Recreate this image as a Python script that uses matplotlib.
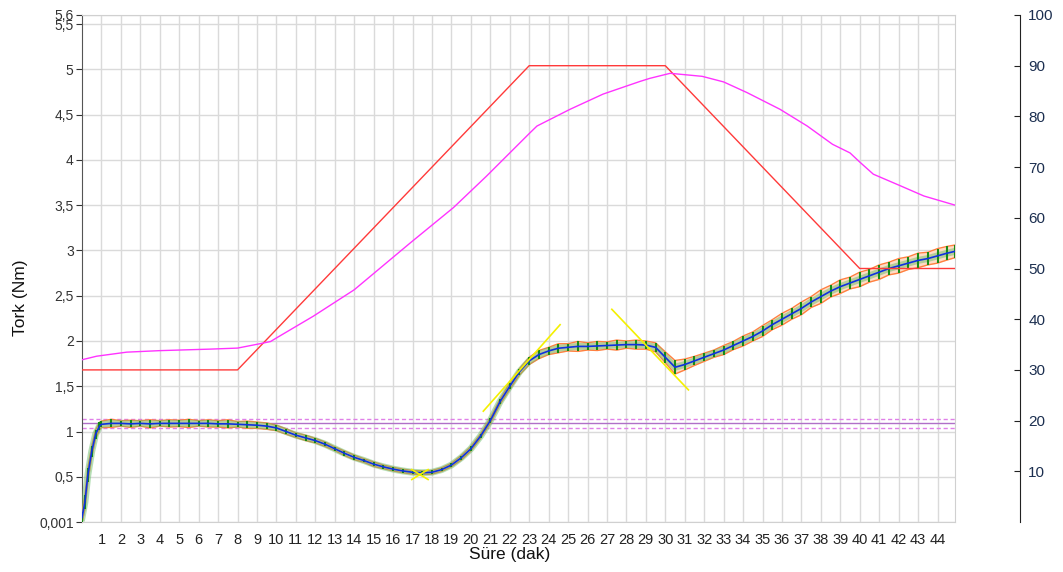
import matplotlib
matplotlib.use("Agg")
import matplotlib.pyplot as plt
import numpy as np

plt.rcParams['font.family'] = ['Liberation Sans', 'DejaVu Sans']

# ---------------- data ----------------
# Set temperature profile (right axis, deg C)
set_time = [0, 8, 23, 30, 40, 44.9]
set_temp = [30, 30, 90, 90, 50, 50]

# Measured temperature (right axis)
meas_time = [0, 0.75, 2.3, 4.0, 6.6, 8.0, 9.2, 9.7, 10.0, 11.9, 14.0, 16.9, 19.1,
             20.8, 23.05, 23.4, 25.1, 26.8, 28.7, 29.2, 30.25, 31.9, 33.0, 34.2,
             35.9, 37.3, 38.6, 39.5, 40.0, 40.7, 42.1, 43.3, 44.9]
meas_temp = [32.0, 32.7, 33.5, 33.8, 34.1, 34.3, 35.2, 35.6, 36.3, 40.6, 45.8, 55.1, 62.0,
             68.2, 76.8, 78.1, 81.4, 84.4, 86.9, 87.5, 88.5, 87.9, 86.8, 84.7,
             81.4, 78.1, 74.5, 72.8, 71.0, 68.6, 66.3, 64.3, 62.5]

# Torque (left axis, Nm)
torque_time = [0.0, 0.15, 0.3, 0.5, 0.7, 0.9, 1.0, 1.5, 2.0, 2.5, 3.0, 3.5, 4.0, 4.5,
               5.0, 5.5, 6.0, 6.5, 7.0, 7.5, 8.0, 8.5, 9.0, 9.5, 10.0, 10.5, 11.0,
               11.5, 12.0, 12.5, 13.0, 13.5, 14.0, 14.5, 15.0, 15.5, 16.0, 16.5,
               17.0, 17.5, 18.0, 18.5, 19.0, 19.5, 20.0, 20.5, 21.0, 21.5, 22.0,
               22.5, 23.0, 23.5, 24.0, 24.5, 25.0, 25.5, 26.0, 26.5, 27.0, 27.5,
               28.0, 28.5, 29.0, 29.5, 30.0, 30.5, 31.0, 31.5, 32.0, 32.5, 33.0,
               33.5, 34.0, 34.5, 35.0, 35.5, 36.0, 36.5, 37.0, 37.5, 38.0, 38.5,
               39.0, 39.5, 40.0, 40.5, 41.0, 41.5, 42.0, 42.5, 43.0, 43.5, 44.0,
               44.5, 44.9]
torque = [0.05, 0.22, 0.52, 0.78, 0.97, 1.06, 1.08, 1.09, 1.09, 1.085, 1.09, 1.085,
          1.09, 1.09, 1.09, 1.09, 1.09, 1.09, 1.085, 1.085, 1.08, 1.075, 1.07, 1.06,
          1.04, 1.0, 0.96, 0.93, 0.90, 0.86, 0.81, 0.76, 0.715, 0.68, 0.64, 0.61,
          0.585, 0.565, 0.55, 0.545, 0.55, 0.58, 0.63, 0.71, 0.81, 0.95, 1.12, 1.33,
          1.50, 1.66, 1.78, 1.85, 1.89, 1.92, 1.93, 1.94, 1.94, 1.945, 1.95, 1.955,
          1.96, 1.96, 1.955, 1.93, 1.82, 1.71, 1.74, 1.78, 1.82, 1.86, 1.90, 1.95,
          2.0, 2.05, 2.11, 2.18, 2.24, 2.30, 2.36, 2.43, 2.49, 2.55, 2.60, 2.64,
          2.68, 2.72, 2.76, 2.80, 2.83, 2.86, 2.89, 2.91, 2.94, 2.97, 2.99]
torque_err = [0.06, 0.08, 0.08, 0.06, 0.05, 0.04, 0.035, 0.045, 0.03, 0.04, 0.03, 0.045,
              0.03, 0.04, 0.035, 0.045, 0.03, 0.04, 0.035, 0.045, 0.03, 0.04, 0.035, 0.035,
              0.03, 0.03, 0.025, 0.03, 0.025, 0.025, 0.02, 0.025, 0.025, 0.02, 0.025, 0.02,
              0.02, 0.02, 0.02, 0.02, 0.02, 0.02, 0.02, 0.025, 0.025, 0.025, 0.03, 0.03,
              0.035, 0.035, 0.04, 0.045, 0.04, 0.05, 0.04, 0.055, 0.04, 0.05, 0.04, 0.055,
              0.04, 0.05, 0.045, 0.05, 0.06, 0.075, 0.06, 0.05, 0.045, 0.04, 0.05, 0.045,
              0.055, 0.05, 0.06, 0.055, 0.065, 0.06, 0.07, 0.06, 0.075, 0.065, 0.075, 0.065,
              0.08, 0.07, 0.08, 0.07, 0.08, 0.07, 0.08, 0.07, 0.08, 0.075, 0.07]

# Tangent (yellow) helper lines
tangent_a_t = [20.64, 24.59]
tangent_a_v = [1.225, 2.18]
tangent_b_t = [27.25, 31.19]
tangent_b_v = [2.35, 1.46]
tangent_c1_t = [16.96, 17.8]
tangent_c1_v = [0.58, 0.47]
tangent_c2_t = [16.96, 17.8]
tangent_c2_v = [0.47, 0.58]

# Reference plateau lines
plateau_mean = 1.092
plateau_upper = 1.143
plateau_lower = 1.037

x_ticks = list(range(1, 45))
y_ticks = [0.001, 0.5, 1, 1.5, 2, 2.5, 3, 3.5, 4, 4.5, 5, 5.5, 5.6]
y_ticklabels = ['0,001', '0,5', '1', '1,5', '2', '2,5', '3', '3,5', '4', '4,5', '5', '5,5', '5,6']
y2_ticks = [10, 20, 30, 40, 50, 60, 70, 80, 90, 100]

# ---------------- figure ----------------
W, H = 1063, 572
fig = plt.figure(figsize=(W / 100, H / 100), dpi=100)
ax = fig.add_axes([82 / W, 1 - 522 / H, (955 - 82) / W, (522 - 15) / H])
ax2 = ax.twinx()

ax.set_xlim(0, 44.9)
ax.set_ylim(0.001, 5.6)
ax2.set_ylim(0, 100)

ax.set_xticks(x_ticks)
ax.set_xticklabels([str(v) for v in x_ticks])
ax.set_yticks(y_ticks)
ax.set_yticklabels(y_ticklabels)
ax.grid(True, color='#dadada', lw=1.0, zorder=0)
ax.set_axisbelow(True)

ax.tick_params(axis='x', length=0, pad=8, labelsize=10.5, colors='#222222')
ax.tick_params(axis='y', length=4, width=0.8, pad=2, labelsize=10, colors='#333333',
               direction='out')
for s in ['top', 'right', 'bottom']:
    ax.spines[s].set_color('#d0d0d0')
ax.spines['left'].set_color('#555555')

# temperatures on right axis
ax2.plot(set_time, set_temp, color='#ff3a3a', lw=1.0, zorder=3)
ax2.plot(meas_time, meas_temp, color='#ff33ff', lw=1.0, zorder=3)

# plateau reference lines
ax.axhline(plateau_mean, color='#b070c8', lw=1.0, zorder=2)
ax.axhline(plateau_upper, color='#e080e8', lw=1.0, ls=(0, (3, 2)), zorder=2)
ax.axhline(plateau_lower, color='#e080e8', lw=1.0, ls=(0, (3, 2)), zorder=2)

# torque band
tt = np.array(torque_time)
tv = np.array(torque)
te = np.array(torque_err)
ax.fill_between(tt, tv - te, tv + te, color='#ffdcc6', lw=0, zorder=3)
ax.plot(tt, tv + te, color='#ff8040', lw=1.0, zorder=4)
ax.plot(tt, tv - te, color='#ff8040', lw=1.0, zorder=4)
ax.plot(tt, tv, color='#6cbf6c', lw=5.0, alpha=0.5, zorder=4)
ax.errorbar(tt, tv, yerr=te, fmt='none', ecolor='#168c16', elinewidth=1.5, zorder=5)
ax.plot(tt, tv, color='#1030e0', lw=1.2, zorder=6)

# tangent lines
for xs, ys in [(tangent_a_t, tangent_a_v), (tangent_b_t, tangent_b_v),
               (tangent_c1_t, tangent_c1_v), (tangent_c2_t, tangent_c2_v)]:
    ax.plot(xs, ys, color='#f4f000', lw=1.2, zorder=7)

# right axis styling
ax2.set_yticks(y2_ticks)
ax2.spines['right'].set_position(('outward', 65 * 72 / 100))
ax2.spines['right'].set_color('#222222')
for s in ['top', 'left', 'bottom']:
    ax2.spines[s].set_visible(False)
ax2.tick_params(axis='y', direction='in', length=4, width=0.8, pad=6, labelsize=11,
                colors='#222222', labelcolor='#1c2f50')

# labels
fig.text(21 / W, 1 - 298 / H, 'Tork (Nm)', rotation=90, ha='center', va='center',
         fontsize=12.5, color='#111111')
fig.text(510 / W, 1 - 554 / H, 'Süre (dak)', ha='center', va='center',
         fontsize=12.5, color='#111111')

fig.savefig('out.png', dpi=100)
